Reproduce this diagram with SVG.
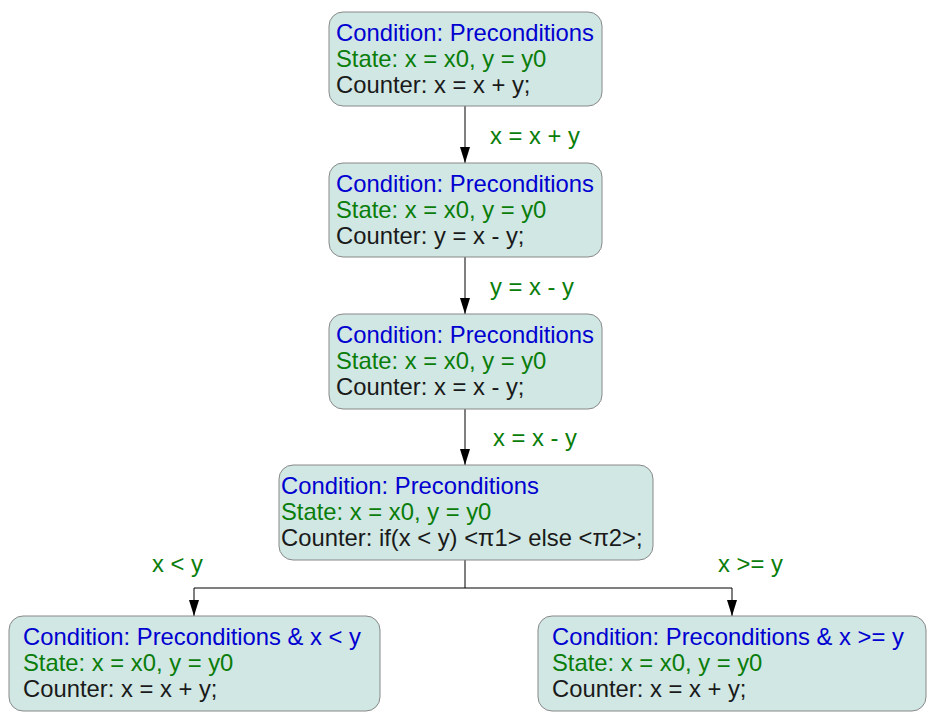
<svg xmlns="http://www.w3.org/2000/svg" width="931" height="720" viewBox="0 0 931 720">
<style>
.box{fill:#d0e7e4;stroke:#888;stroke-width:1}
text{font-family:"Liberation Sans",Arial,sans-serif;font-size:23.8px}
.c{fill:#0000d0}.s{fill:#0a7d0a}.k{fill:#1a1a1a}.l{fill:#0a7d0a}
.e{stroke:#000;stroke-width:1;fill:none}
</style>
<defs>
<marker id="ah" markerWidth="16" markerHeight="10" refX="16" refY="5" orient="auto" markerUnits="userSpaceOnUse" viewBox="0 0 16 10">
<path d="M0,0 L16,5 L0,10 Z" fill="#000"/>
</marker>
</defs>
<rect width="931" height="720" fill="#fff"/>
<g id="edges">
<path class="e" d="M465,106 V163" marker-end="url(#ah)"/>
<path class="e" d="M465,257 V314" marker-end="url(#ah)"/>
<path class="e" d="M465,409 V465" marker-end="url(#ah)"/>
<path class="e" d="M465,560 V588 H194 V616" marker-end="url(#ah)"/>
<path class="e" d="M465,588 H732 V616" marker-end="url(#ah)"/>
<text class="l" x="490" y="144">x = x + y</text>
<text class="l" x="490" y="295">y = x - y</text>
<text class="l" x="493" y="446">x = x - y</text>
<text class="l" x="152" y="572">x &lt; y</text>
<text class="l" x="718" y="572">x &gt;= y</text>
</g>
<g id="n1">
<rect class="box" x="329" y="12" width="273" height="94" rx="14"/>
<text class="c" x="336" y="41">Condition: Preconditions</text>
<text class="s" x="336" y="67">State: x = x0, y = y0</text>
<text class="k" x="336" y="93">Counter: x = x + y;</text>
</g>
<g id="n2">
<rect class="box" x="329" y="163" width="273" height="94" rx="14"/>
<text class="c" x="336" y="192">Condition: Preconditions</text>
<text class="s" x="336" y="218">State: x = x0, y = y0</text>
<text class="k" x="336" y="244">Counter: y = x - y;</text>
</g>
<g id="n3">
<rect class="box" x="329" y="314" width="273" height="95" rx="14"/>
<text class="c" x="336" y="343">Condition: Preconditions</text>
<text class="s" x="336" y="369">State: x = x0, y = y0</text>
<text class="k" x="336" y="395">Counter: x = x - y;</text>
</g>
<g id="n4">
<rect class="box" x="279" y="465" width="374" height="95" rx="14"/>
<text class="c" x="281" y="494">Condition: Preconditions</text>
<text class="s" x="281" y="520">State: x = x0, y = y0</text>
<text class="k" x="281" y="546">Counter: if(x &lt; y) &lt;π1&gt; else &lt;π2&gt;;</text>
</g>
<g id="n5">
<rect class="box" x="9" y="616" width="371" height="95" rx="14"/>
<text class="c" x="23" y="645">Condition: Preconditions &amp; x &lt; y</text>
<text class="s" x="23" y="671">State: x = x0, y = y0</text>
<text class="k" x="23" y="697">Counter: x = x + y;</text>
</g>
<g id="n6">
<rect class="box" x="538" y="616" width="388" height="95" rx="14"/>
<text class="c" x="552" y="645">Condition: Preconditions &amp; x &gt;= y</text>
<text class="s" x="552" y="671">State: x = x0, y = y0</text>
<text class="k" x="552" y="697">Counter: x = x + y;</text>
</g>
</svg>
